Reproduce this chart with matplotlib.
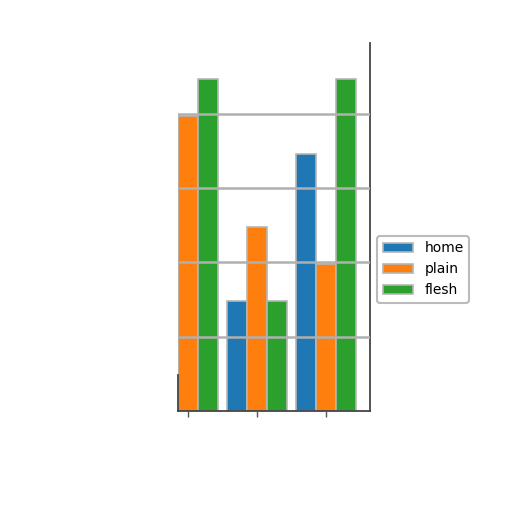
import numpy as np
import matplotlib
matplotlib.use("Agg")
from matplotlib import pyplot as plt

# data
groups = ["a", "b", "c"]
series = ["home", "plain", "flesh"]
home = [0.0, 1.48, 3.46]
plain = [3.97, 2.47, 1.98]
flesh = [4.46, 1.48, 4.46]
colors = ["#1f77b4", "#ff7f0e", "#2ca02c"]

fig = plt.figure(figsize=(5.12, 5.12), dpi=100)
ax = fig.add_axes([0.348, 0.197, 0.375, 0.719])

x = np.arange(len(groups))
w = 0.29
for i, (name, vals) in enumerate(zip(series, [home, plain, flesh])):
    ax.bar(x + (i - 1) * w, vals, w, color=colors[i], edgecolor="#b5b5b5",
           linewidth=1.2, label=name, zorder=1)

ax.set_xlim(-0.145, 2.64)
ax.set_ylim(0, 4.95)
ax.set_xticks(x)
ax.set_xticklabels([])
ax.set_yticks([1, 2, 3, 4])
ax.set_yticklabels([])
ax.tick_params(axis="y", length=0)
ax.tick_params(axis="x", length=4, width=1, color="#555555")
ax.grid(axis="y", color="#b0b0b0", linewidth=1.8)
ax.set_axisbelow(False)

ax.spines["top"].set_visible(False)
ax.spines["left"].set_bounds(0, 0.48)
for s in ["left", "bottom", "right"]:
    ax.spines[s].set_color("#444444")
    ax.spines[s].set_linewidth(1.3)

leg = ax.legend(loc="center left", bbox_to_anchor=(1.0, 0.385), fontsize=10,
                fancybox=True, framealpha=1, handlelength=2.2)
leg.get_frame().set_edgecolor("#bbbbbb")
leg.get_frame().set_linewidth(1.5)

fig.savefig("out.png", dpi=100)
